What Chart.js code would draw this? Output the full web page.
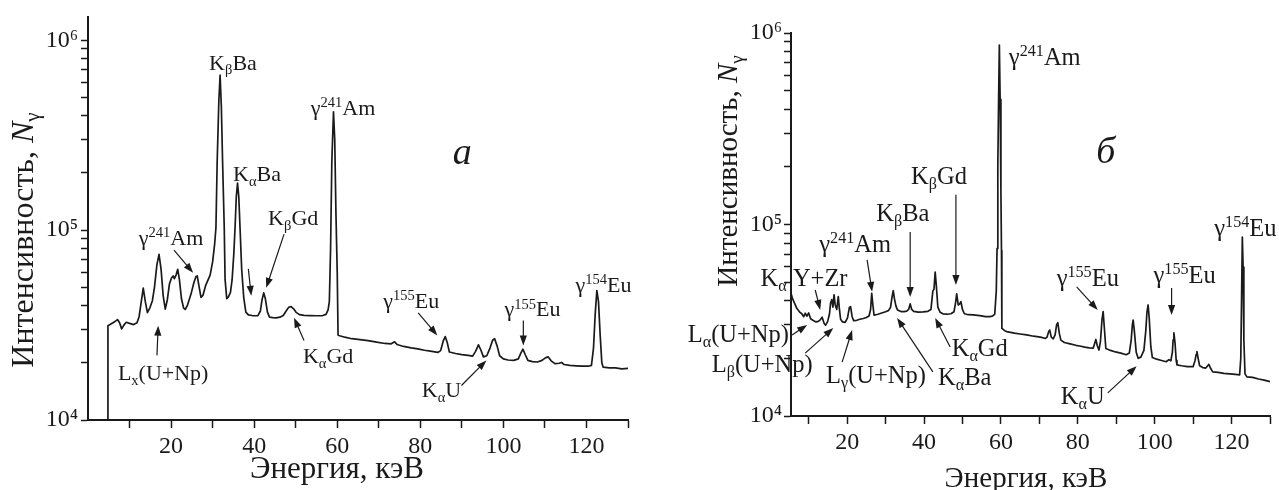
<!DOCTYPE html>
<html>
<head>
<meta charset="utf-8">
<script src="https://cdn.jsdelivr.net/npm/chart.js@4.4.1/dist/chart.umd.min.js"></script>
<style>
  body { margin: 0; background: #fff; }
  #wrap { position: relative; width: 1279px; height: 490px; }
  canvas { position: absolute; top: 0; }
  #spectrum-a { left: 0; }
  #spectrum-b { left: 640px; }
</style>
</head>
<body>
<div id="wrap">
  <canvas id="spectrum-a" width="640" height="490"></canvas>
  <canvas id="spectrum-b" width="639" height="490"></canvas>
</div>
<script>
// panel а: energy (keV) and counts
const energyA = [4.75, 4.8, 5.5, 6.3, 7.1, 7.6, 8.1, 8.6, 9.2, 10.0, 11.0, 11.8, 12.3, 12.9, 13.3, 13.8,
  14.3, 14.9, 15.5, 16.0, 16.6, 17.1, 17.6, 18.1, 18.6, 19.1, 19.6, 20.1, 20.5, 20.8, 21.2, 21.6,
  22.0, 22.5, 23.0, 23.4, 23.9, 24.4, 24.9, 25.5, 26.0, 26.3, 26.7, 27.2, 27.7, 28.3, 28.8, 29.4,
  30.0, 30.5, 30.8, 31.1, 31.5, 31.8, 32.1, 32.4, 32.8, 33.0, 33.4, 33.8, 34.3, 34.7, 35.1, 35.4,
  35.7, 36.0, 36.3, 36.6, 37.0, 37.5, 38.0, 38.6, 39.5, 40.2, 40.9, 41.5, 41.9, 42.3, 42.7, 43.2,
  43.7, 44.5, 45.3, 46.2, 47.0, 47.7, 48.3, 48.9, 49.5, 50.1, 50.9, 52.0, 53.5, 55.0, 56.5, 57.3,
  57.8, 58.1, 58.4, 58.7, 59.1, 59.4, 59.7, 60.0, 60.2, 60.6, 61.8, 63.5, 65.5, 67.4, 69.5, 71.5,
  73.0, 73.8, 74.4, 76.0, 77.8, 79.4, 81.0, 82.8, 84.2, 84.9, 85.5, 86.0, 86.5, 87.0, 88.5, 90.0,
  91.5, 92.6, 93.3, 94.0, 94.6, 95.2, 96.0, 96.8, 97.4, 97.9, 98.5, 99.1, 100.0, 101.1, 102.5, 103.6,
  104.2, 104.7, 105.3, 105.9, 107.0, 108.2, 109.3, 110.2, 110.8, 111.5, 112.4, 113.4, 114.0, 114.6, 116.0, 117.5,
  119.0, 120.4, 121.2, 121.7, 122.1, 122.5, 122.9, 123.3, 123.7, 124.0, 125.5, 127.0, 128.5, 130.0];
const countsA = [10000, 31400, 32000, 32800, 33800, 32500, 30200, 31500, 32700, 32300, 31800, 32500, 35000, 43000, 49500, 42000,
  36800, 39000, 42500, 50000, 66000, 74600, 62000, 45000, 38400, 43000, 52000, 56000, 57400, 55500, 58000, 62200,
  55000, 43500, 39000, 38200, 40000, 43300, 47000, 53000, 57000, 57400, 51000, 44200, 45500, 51000, 54000, 58000,
  68000, 85000, 103000, 230000, 480000, 655000, 450000, 230000, 103000, 55000, 43600, 44500, 47000, 55000, 75000, 103000,
  150000, 177000, 150000, 103000, 62000, 44000, 37000, 35800, 35500, 35400, 35500, 37500, 43000, 46700, 43500, 37000,
  34800, 34600, 34500, 34800, 35500, 37500, 39200, 39600, 38500, 36900, 35900, 35600, 35500, 35400, 35500, 36000,
  38000, 42000, 80000, 230000, 420000, 300000, 120000, 60000, 28000, 27800, 27300, 26800, 26500, 26200, 25700, 25300,
  25200, 25800, 25000, 24400, 24000, 23700, 23300, 23000, 22700, 23200, 26000, 27500, 25500, 22800, 22400, 22100,
  21900, 21700, 23000, 24900, 23300, 21500, 21800, 24000, 26300, 26800, 24500, 21800, 21000, 20700, 20600, 21000,
  22500, 23600, 22000, 20600, 20300, 20200, 20600, 21300, 21500, 20500, 19800, 19900, 20100, 19600, 19400, 19300,
  19200, 19200, 19400, 24000, 36000, 48000, 42000, 28000, 20000, 19000, 18800, 18800, 18600, 18700];

// panel б: energy (keV) and counts
const energyB = [5.4, 5.8, 6.4, 6.9, 7.6, 8.2, 8.7, 9.1, 9.5, 10.0, 10.5, 11.2, 11.9, 12.5, 13.0, 13.5,
  14.0, 14.4, 14.9, 15.4, 15.7, 16.0, 16.3, 16.6, 16.9, 17.3, 17.7, 18.0, 18.3, 18.8, 19.5, 20.1,
  20.6, 20.9, 21.3, 21.7, 22.5, 23.3, 24.2, 25.0, 25.7, 26.1, 26.4, 26.7, 27.0, 28.0, 29.0, 30.0,
  30.8, 31.3, 31.7, 32.0, 32.3, 32.7, 33.1, 34.0, 34.8, 35.5, 36.0, 36.4, 36.8, 37.3, 38.5, 39.8,
  41.0, 41.8, 42.3, 42.6, 42.9, 43.2, 43.6, 44.2, 45.0, 46.0, 47.0, 47.8, 48.2, 48.5, 48.9, 49.3,
  49.6, 50.0, 50.5, 51.5, 52.8, 54.5, 56.0, 57.1, 57.8, 58.4, 58.8, 59.0, 59.2, 59.4, 59.6, 59.8,
  60.0, 60.15, 60.25, 61.0, 61.5, 63.5, 65.0, 66.7, 68.5, 70.3, 71.6, 72.0, 72.4, 72.7, 73.1, 73.6,
  74.1, 74.5, 74.8, 75.2, 75.6, 76.5, 78.0, 79.5, 80.5, 81.8, 83.0, 84.0, 84.4, 84.7, 85.1, 85.5,
  85.9, 86.3, 86.6, 86.9, 87.3, 88.5, 89.8, 91.2, 92.6, 93.4, 93.9, 94.2, 94.4, 94.7, 95.2, 95.7,
  96.4, 97.2, 97.7, 98.0, 98.3, 98.6, 99.0, 99.4, 100.5, 101.8, 103.0, 103.7, 104.2, 104.6, 104.8, 105.0,
  105.3, 105.6, 105.8, 107.0, 108.5, 110.0, 110.5, 110.8, 111.0, 111.3, 111.7, 112.5, 113.3, 113.8, 114.1, 114.5,
  115.1, 116.5, 118.0, 119.5, 121.0, 122.1, 122.4, 122.6, 122.8, 123.0, 123.2, 123.5, 124.0, 125.5, 127.0, 128.5,
  130.0];
const countsB = [43700, 41000, 38500, 36500, 35000, 34200, 33000, 34400, 33200, 34500, 32200, 31500, 31000, 31200, 31800, 32800,
  30500, 29800, 31000, 34000, 39000, 40500, 37000, 42900, 38000, 36000, 42000, 36000, 32000, 31000, 30800, 32500,
  37000, 37200, 33000, 31500, 31600, 32000, 32300, 32700, 33300, 36000, 43700, 38000, 33600, 34000, 34500, 35000,
  35600, 37000, 42000, 45100, 41000, 37500, 35800, 35100, 35100, 35300, 36000, 38500, 36000, 35200, 34900, 35000,
  35200, 36000, 45000, 46000, 56500, 48000, 37000, 34800, 34100, 34000, 34200, 35000, 39000, 43400, 38000, 38500,
  39600, 36000, 34200, 33800, 33700, 33400, 33000, 33000, 33200, 34000, 45000, 75000, 200000, 450000, 865000, 450000,
  150000, 73000, 28700, 27900, 27600, 27100, 26800, 26500, 26100, 25800, 25400, 25800, 27500, 28100, 25800, 25300,
  26500, 30000, 30700, 27000, 24900, 24200, 23800, 23400, 23200, 22900, 22700, 22600, 24000, 25100, 23200, 22100,
  24500, 32000, 35100, 29000, 22500, 22000, 21600, 21300, 20900, 21300, 25000, 30000, 31700, 28000, 21500, 20000,
  20300, 22000, 28000, 35000, 38000, 32000, 23000, 20200, 19800, 19500, 19200, 19700, 19400, 21500, 25000, 27200,
  24000, 19500, 18500, 18300, 18100, 18100, 19500, 21000, 21700, 20000, 18300, 17900, 17800, 18300, 18600, 17800,
  17000, 16900, 16700, 16600, 16500, 16400, 20000, 40000, 86000, 60000, 25000, 16600, 16000, 15900, 15600, 15400,
  15100];

// axis ticks
const yTicks = [1e4, 2e4, 3e4, 4e4, 5e4, 6e4, 7e4, 8e4, 9e4,
  1e5, 2e5, 3e5, 4e5, 5e5, 6e5, 7e5, 8e5, 9e5, 1e6];
const xTicks = [10, 20, 30, 40, 50, 60, 70, 80, 90, 100, 110, 120, 130];
const supDigits = { 4: '⁴', 5: '⁵', 6: '⁶' };

// peak labels [text, keV, counts] and arrows [[from], [to]]
const labelsA = [
  ['K_{β}Ba', 34.9, 6.97e5], ['K_{α}Ba', 40.7, 1.81e5], ['K_{β}Gd', 49.4, 1.06e5],
  ['γ^{241}Am', 20.0, 8.34e4], ['γ^{241}Am', 61.4, 4.05e5], ['L_{x}(U+Np)', 18.1, 1.62e4],
  ['K_{α}Gd', 57.8, 1.99e4], ['γ^{155}Eu', 77.8, 3.91e4], ['K_{α}U', 85.1, 1.32e4],
  ['γ^{155}Eu', 107.0, 3.51e4], ['γ^{154}Eu', 124.1, 4.73e4]
];
const arrowsA = [
  [[47.2, 9.53e4], [42.9, 4.97e4]], [[20.7, 7.85e4], [25.3, 5.96e4]],
  [[38.6, 6.25e4], [39.3, 4.51e4]], [[16.6, 2.19e4], [16.9, 3.14e4]],
  [[52.0, 2.62e4], [49.6, 3.46e4]], [[79.5, 3.67e4], [84.1, 2.79e4]],
  [[89.9, 1.52e4], [95.9, 2.06e4]], [[104.8, 3.34e4], [104.8, 2.47e4]]
];
const labelsB = [
  ['γ^{241}Am', 71.4, 6.81e5], ['γ^{154}Eu', 123.6, 8.71e4], ['K_{β}Gd', 43.9, 1.63e5],
  ['K_{β}Ba', 34.5, 1.04e5], ['γ^{241}Am', 22.1, 7.18e4], ['K_{α} Y+Zr', 8.8, 4.78e4],
  ['L_{α}(U+Np)', -8.3, 2.43e4], ['L_{β}(U+Np)', -2.1, 1.70e4], ['L_{γ}(U+Np)', 27.5, 1.49e4],
  ['K_{α}Ba', 50.6, 1.45e4], ['K_{α}Gd', 54.5, 2.06e4], ['γ^{155}Eu', 82.6, 4.78e4],
  ['γ^{155}Eu', 107.8, 4.96e4], ['K_{α}U', 81.3, 1.15e4]
];
const arrowsB = [
  [[48.3, 1.43e5], [48.3, 4.83e4]], [[36.4, 9.14e4], [36.4, 4.18e4]],
  [[25.2, 6.53e4], [26.5, 4.45e4]], [[11.7, 4.55e4], [13.0, 3.58e4]],
  [[5.7, 2.65e4], [9.6, 2.99e4]], [[9.1, 2.13e4], [16.4, 2.88e4]],
  [[18.7, 1.91e4], [21.3, 2.81e4]], [[42.3, 1.70e4], [33.0, 3.25e4]],
  [[46.8, 2.29e4], [42.9, 3.25e4]], [[79.7, 4.72e4], [85.2, 3.58e4]],
  [[104.4, 4.66e4], [104.4, 3.37e4]], [[87.8, 1.32e4], [95.3, 1.82e4]]
];

const INK = '#1a1a1a';
const SERIF = '"Liberation Serif", "Times New Roman", serif';
Chart.defaults.font.family = SERIF;
Chart.defaults.color = INK;

// text with ^{sup}, _{sub} and *italic* pieces
function drawRich(ctx, text, x, y, size, align, italic) {
  const parts = [];
  const re = /\^\{([^}]*)\}|_\{([^}]*)\}|\*([^*]*)\*|([^^_*]+)/g;
  let m;
  while ((m = re.exec(text))) {
    if (m[1] !== undefined) parts.push({ t: m[1], k: 'sup' });
    else if (m[2] !== undefined) parts.push({ t: m[2], k: 'sub' });
    else if (m[3] !== undefined) parts.push({ t: m[3], k: 'it' });
    else parts.push({ t: m[4], k: 'n' });
  }
  const fontFor = p => {
    const s = (p.k === 'sup' || p.k === 'sub') ? size * 0.66 : size;
    return ((p.k === 'it' || italic) ? 'italic ' : '') + s + 'px ' + SERIF;
  };
  let w = 0;
  parts.forEach(p => { ctx.font = fontFor(p); p.w = ctx.measureText(p.t).width; w += p.w; });
  let cx = align === 'center' ? x - w / 2 : (align === 'right' ? x - w : x);
  ctx.textAlign = 'left';
  ctx.textBaseline = 'alphabetic';
  parts.forEach(p => {
    ctx.font = fontFor(p);
    const dy = p.k === 'sup' ? -size * 0.36 : (p.k === 'sub' ? size * 0.2 : 0);
    ctx.fillText(p.t, cx, y + dy);
    cx += p.w;
  });
}

function drawArrow(ctx, x1, y1, x2, y2) {
  const a = Math.atan2(y2 - y1, x2 - x1);
  const len = 10, half = 3.6;
  ctx.beginPath();
  ctx.moveTo(x1, y1);
  ctx.lineTo(x2 - Math.cos(a) * len * 0.8, y2 - Math.sin(a) * len * 0.8);
  ctx.stroke();
  ctx.beginPath();
  ctx.moveTo(x2, y2);
  ctx.lineTo(x2 - Math.cos(a) * len - Math.sin(a) * half, y2 - Math.sin(a) * len + Math.cos(a) * half);
  ctx.lineTo(x2 - Math.cos(a) * len + Math.sin(a) * half, y2 - Math.sin(a) * len - Math.cos(a) * half);
  ctx.closePath();
  ctx.fill();
}

const notesPlugin = {
  id: 'notes',
  afterDraw(chart, args, o) {
    const { ctx } = chart;
    const xs = chart.scales.x, ys = chart.scales.y;
    const px = v => xs.getPixelForValue(v), py = v => ys.getPixelForValue(v);
    ctx.save();
    ctx.fillStyle = INK;
    ctx.strokeStyle = INK;
    ctx.lineWidth = 1.2;
    o.arrows.forEach(([f, t]) => drawArrow(ctx, px(f[0]), py(f[1]), px(t[0]), py(t[1])));
    o.labels.forEach(([txt, e, n]) => drawRich(ctx, txt, px(e), py(n), o.size, 'center'));
    drawRich(ctx, o.letter[0], px(o.letter[1]), py(o.letter[2]), 38, 'center', true);
    // axis titles
    const xt = o.xTitle, yt = o.yTitle;
    drawRich(ctx, xt.text, xt.x, xt.y, xt.size, 'center');
    ctx.translate(yt.x, yt.y);
    ctx.rotate(-Math.PI / 2);
    drawRich(ctx, yt.text, 0, 0, yt.size, 'center');
    ctx.restore();
  }
};

function makeChart(id, energy, counts, cfg) {
  return new Chart(document.getElementById(id), {
    type: 'line',
    data: {
      datasets: [{
        data: energy.map((e, i) => ({ x: e, y: counts[i] })),
        borderColor: INK,
        borderWidth: 1.7,
        borderJoinStyle: 'round',
        pointRadius: 0,
        tension: 0
      }]
    },
    options: {
      responsive: false,
      animation: false,
      devicePixelRatio: 1,
      layout: { padding: { left: 0, right: cfg.padRight, top: cfg.padTop, bottom: 0 } },
      plugins: {
        legend: { display: false },
        tooltip: { enabled: false },
        notes: {
          labels: cfg.labels, arrows: cfg.arrows, size: cfg.labelSize, letter: cfg.letter,
          xTitle: cfg.xTitle, yTitle: cfg.yTitle
        }
      },
      scales: {
        x: {
          type: 'linear', min: cfg.xMin, max: 130,
          afterBuildTicks: s => { s.ticks = xTicks.map(v => ({ value: v })); },
          afterFit: s => { s.height = cfg.xHeight; },
          ticks: {
            autoSkip: false, maxRotation: 0, padding: 4,
            font: { size: 24 }, color: INK,
            callback: v => (v % 20 === 0 ? String(v) : '')
          },
          grid: { drawOnChartArea: false, tickLength: 8, tickColor: INK, tickWidth: 1.5 },
          border: { color: INK, width: 2 }
        },
        y: {
          type: 'logarithmic', min: 1e4, max: cfg.yMax,
          afterBuildTicks: s => { s.ticks = yTicks.map(v => ({ value: v })); },
          afterFit: s => { s.width = cfg.yWidth; },
          ticks: {
            autoSkip: false, padding: cfg.yPad,
            font: { size: 24 }, color: INK,
            callback: v => {
              const e = Math.log10(v);
              return Math.abs(e - Math.round(e)) < 1e-9 ? '10' + supDigits[Math.round(e)] : '';
            }
          },
          grid: { drawOnChartArea: false, tickLength: 7, tickColor: INK, tickWidth: 1.5 },
          border: { color: INK, width: 2 }
        }
      }
    },
    plugins: [notesPlugin]
  });
}

makeChart('spectrum-a', energyA, countsA, {
  xMin: 0, yMax: 1.32e6, yWidth: 88, xHeight: 70, padRight: 12, padTop: 15, yPad: 3,
  labels: labelsA, arrows: arrowsA, labelSize: 22, letter: ['а', 90.1, 2.22e5],
  xTitle: { text: 'Энергия, кэВ', x: 337, y: 478, size: 31 },
  yTitle: { text: 'Интенсивность, *N*_{γ}', x: 33, y: 240, size: 32 }
});

makeChart('spectrum-b', energyB, countsB, {
  xMin: 5.4, yMax: 1e6, yWidth: 151, xHeight: 74, padRight: 9, padTop: 33, yPad: 2,
  labels: labelsB, arrows: arrowsB, labelSize: 24.5, letter: ['б', 87.3, 2.09e5],
  xTitle: { text: 'Энергия, кэВ', x: 386, y: 487, size: 29 },
  yTitle: { text: 'Интенсивность, *N*_{γ}', x: 97, y: 171, size: 29 }
});
</script>
</body>
</html>
